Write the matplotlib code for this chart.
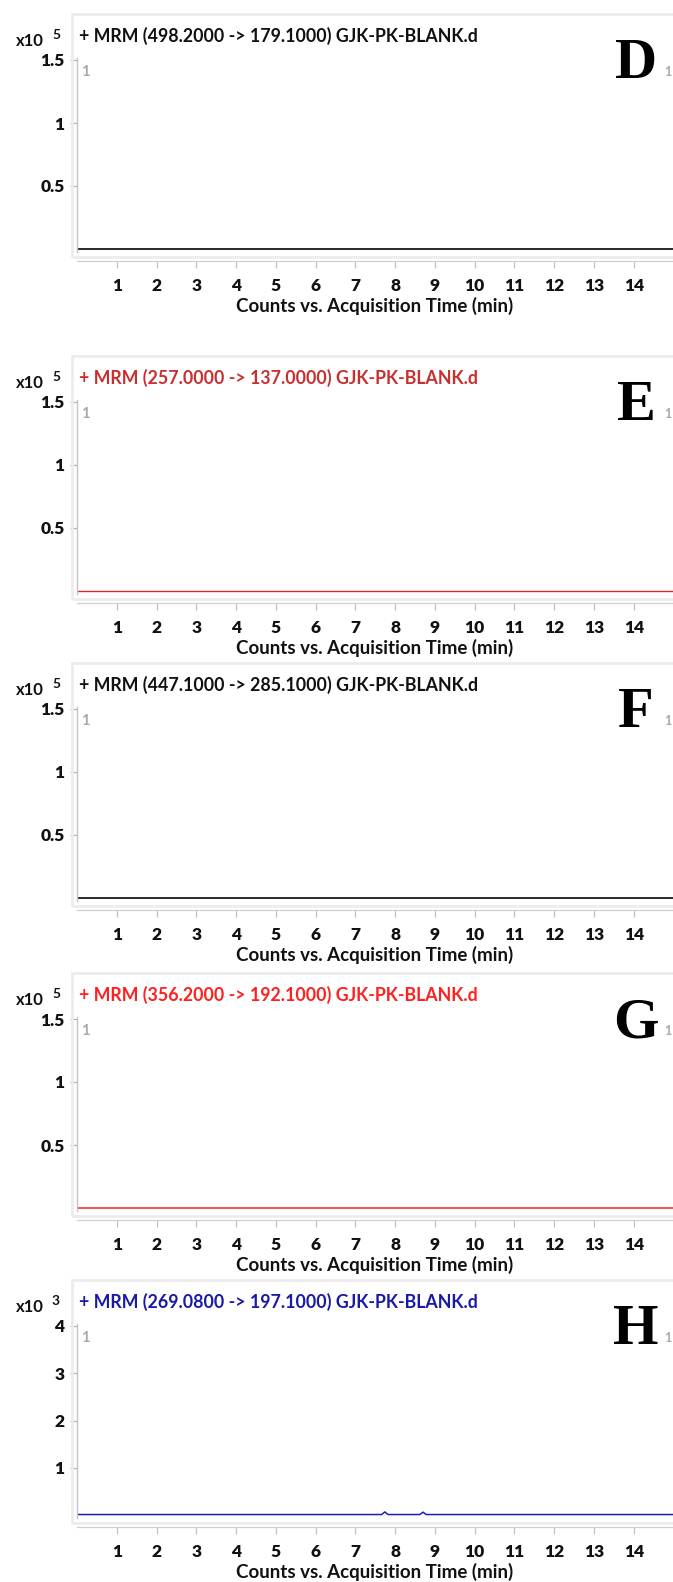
import matplotlib
matplotlib.use("Agg")
import matplotlib.pyplot as plt
from matplotlib.patches import Rectangle
import numpy as np

# chromatogram data (counts vs time in min)
letters = ['D', 'E', 'F', 'G', 'H']
transitions = ['498.2000 -> 179.1000', '257.0000 -> 137.0000', '447.1000 -> 285.1000',
               '356.2000 -> 192.1000', '269.0800 -> 197.1000']
exponents = [5, 5, 5, 5, 3]
yticks_list = [[0.5, 1, 1.5], [0.5, 1, 1.5], [0.5, 1, 1.5], [0.5, 1, 1.5], [1, 2, 3, 4]]
xticks = list(range(1, 15))

d_time = [0.0, 15.0]
d_counts = [0, 0]
e_time = [0.0, 15.0]
e_counts = [0, 0]
f_time = [0.0, 15.0]
f_counts = [0, 0]
g_time = [0.0, 15.0]
g_counts = [0, 0]
h_time = [0.0, 7.66, 7.74, 7.82, 8.62, 8.7, 8.78, 15.0]
h_counts = [10, 10, 65, 10, 10, 60, 10, 10]

times = [d_time, e_time, f_time, g_time, h_time]
counts = [d_counts, e_counts, f_counts, g_counts, h_counts]

trace_colors = ['#2a2a2a', '#d02a2a', '#2a2a2a', '#ff1e1e', '#1e1eb4']
title_colors = ['#111111', '#c83030', '#111111', '#ff2020', '#1a1aa8']
trace_widths = [1.4, 1.0, 1.4, 1.1, 1.1]

# layout in pixels
W, H = 673, 1582
zero_px = [249, 591, 898, 1208, 1515]
span_px = 189  # from zero to top tick

fig = plt.figure(figsize=(W / 100, H / 100), dpi=100)
fig.patch.set_facecolor('white')

def fx(x):
    return x / W

def fy(y):
    return 1 - y / H

font = ['Lato', 'DejaVu Sans']
grey = '#a8a8a8'

for i in range(5):
    z = zero_px[i]
    top_tick = z - span_px
    ymax = yticks_list[i][-1]
    ppu = span_px / ymax
    ax_top = top_tick - 2
    ax_bot = z + 3
    left, right = 77, 673

    # faint panel frame
    fig.patches.append(Rectangle((fx(72), fy(z + 8)), fx(680) - fx(72), fy(z - 235) - fy(z + 8),
                                 transform=fig.transFigure, facecolor='none',
                                 edgecolor='#ececec', lw=2, zorder=0))

    ax = fig.add_axes([fx(left), fy(ax_bot), fx(right) - fx(left), fy(ax_top) - fy(ax_bot)])
    scale = 10 ** exponents[i]
    ax.plot(times[i], np.array(counts[i]) / scale, color=trace_colors[i], lw=trace_widths[i])
    ax.set_xlim(0, (right - left) / 39.77)
    ax.set_ylim(-3 / ppu, ymax + 2 / ppu)

    for s in ['top', 'right']:
        ax.spines[s].set_visible(False)
    ax.spines['left'].set_color('#c4c4c4')
    ax.spines['left'].set_linewidth(1.0)
    ax.spines['bottom'].set_position(('outward', 6.5))
    ax.spines['bottom'].set_color('#d0d0d0')
    ax.spines['bottom'].set_linewidth(0.9)

    ax.set_xticks(xticks)
    ax.set_xticklabels([str(t) for t in xticks])
    ax.set_yticks(yticks_list[i])
    ax.set_yticklabels([('%g' % v) for v in yticks_list[i]])
    ax.tick_params(axis='x', direction='out', length=5, width=0.9, color='#c0c0c0', pad=7)
    ax.tick_params(axis='y', direction='out', length=5, width=0.9, color='#b0b0b0', pad=4)
    for lab in ax.get_xticklabels() + ax.get_yticklabels():
        lab.set_family(font)
        lab.set_fontweight('heavy')
        lab.set_fontsize(12.5)
        lab.set_color('#111111')
    ax.set_xlabel('Counts vs. Acquisition Time (min)', family=font, fontweight='bold',
                  fontsize=13.5, color='#111111', labelpad=2)

    # header
    fig.text(fx(79), fy(z - 213), '+ MRM (%s) GJK-PK-BLANK.d' % transitions[i],
             family=font, fontweight='bold', fontsize=12.8, color=title_colors[i],
             va='center', ha='left')
    fig.text(fx(44), fy(z - 208), 'x10', family=font, fontweight='bold', fontsize=12,
             color='#111111', va='center', ha='right')
    fig.text(fx(56), fy(z - 214), str(exponents[i]), family=font, fontweight='bold',
             fontsize=10, color='#111111', va='center', ha='center')

    # grey markers and panel letter
    fig.text(fx(81), fy(top_tick + 12), '1', family=font, fontweight='bold', fontsize=10.5,
             color=grey, va='center', ha='left')
    fig.text(fx(636), fy(top_tick + 18), letters[i], family='Liberation Serif',
             fontweight='bold', fontsize=42, color='black', va='baseline', ha='center')
    fig.text(fx(664), fy(top_tick + 12), '1', family=font, fontweight='bold', fontsize=9,
             color=grey, va='center', ha='left')

fig.savefig('out.png', dpi=100)
